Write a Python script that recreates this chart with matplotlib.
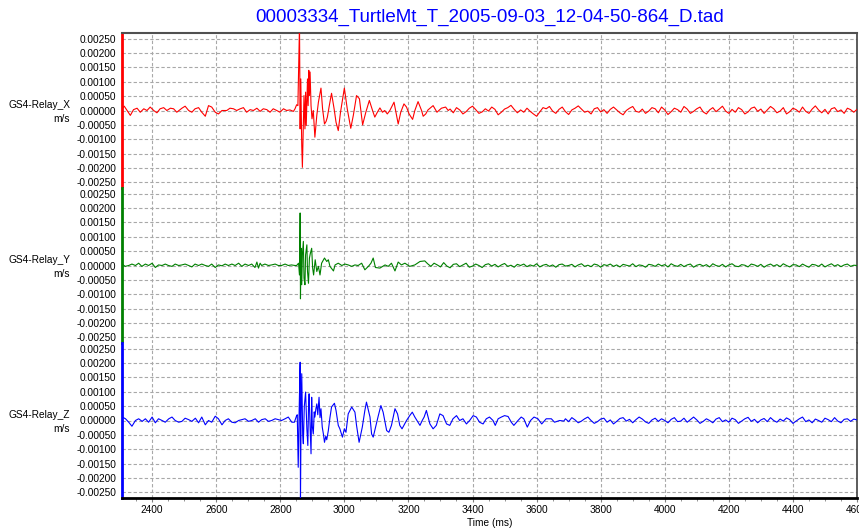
import matplotlib
matplotlib.use("Agg")
import matplotlib.pyplot as plt
from matplotlib.ticker import MultipleLocator, FuncFormatter

title = "00003334_TurtleMt_T_2005-09-03_12-04-50-864_D.tad"
channel_names = ["GS4-Relay_X", "GS4-Relay_Y", "GS4-Relay_Z"]
unit_label = "m/s"
x_label = "Time (ms)"

# ---- X channel: time (ms) and velocity (1e-3 m/s) ----
x_time = [2306, 2313, 2322, 2332, 2342, 2353, 2363, 2374, 2384, 2394, 2405, 2415, 2425,
          2436, 2446, 2457, 2467, 2477, 2493, 2503, 2514, 2524, 2534, 2545, 2555, 2566,
          2576, 2586, 2597, 2607, 2618, 2633, 2643, 2654, 2664, 2675, 2685, 2695, 2706,
          2716, 2727, 2737, 2747, 2758, 2768, 2778, 2789, 2799, 2810, 2820, 2830, 2841,
          2846, 2851, 2855, 2860, 2862, 2864, 2867, 2869, 2871, 2874, 2877, 2879, 2881,
          2885, 2887, 2889, 2891, 2893, 2896, 2899, 2903, 2908, 2914, 2919, 2927, 2932,
          2938, 2943, 2947, 2953, 2960, 2968, 2974, 2981, 2988, 3000, 3009, 3020, 3028,
          3038, 3047, 3057, 3067, 3078, 3088, 3095, 3103, 3111, 3119, 3126, 3134, 3142,
          3155, 3161, 3168, 3176, 3186, 3194, 3202, 3213, 3220, 3230, 3241, 3246, 3254,
          3261, 3277, 3289, 3303, 3316, 3324]
x_vel = [0.06, 0.15, 0.00, -0.17, 0.03, 0.08, -0.06, 0.06, 0.00, 0.12, 0.00, -0.08, 0.06,
         0.10, 0.00, 0.08, 0.06, -0.06, 0.08, 0.15, 0.00, -0.06, 0.06, 0.10, -0.06, -0.20,
         0.17, 0.12, -0.06, -0.12, 0.00, 0.00, 0.08, 0.06, 0.00, 0.06, 0.10, -0.06, 0.03,
         0.00, 0.08, -0.03, 0.06, 0.03, -0.06, 0.06, 0.00, -0.06, 0.06, 0.00, 0.02, -0.03,
         0.06, 0.20, 0.17, 3.00, -0.64, 1.10, -1.22, -1.98, -0.99, 0.52, -0.64, 0.64, -0.52,
         1.10, 0.17, 1.40, 0.52, 1.34, 0.17, -0.29, 0.00, -0.93, -0.17, 0.29, 0.78, 0.06,
         -0.47, -0.38, -0.23, 0.17, 0.60, 0.06, -0.41, -0.70, -0.06, 0.78, 0.06, -0.62, -0.17,
         0.52, 0.41, -0.50, -0.06, 0.35, 0.00, -0.23, -0.06, 0.09, -0.06, 0.00, -0.12, 0.00,
         0.29, -0.06, -0.47, -0.06, 0.23, 0.12, -0.12, -0.31, 0.00, 0.31, 0.00, -0.20, -0.12,
         0.02, 0.17, -0.06, 0.08, 0.12, 0.00]
# coda, one sample every 10 ms from 3330 ms
x_coda = [0.05, -0.08, 0.10, 0.02, -0.12, -0.04, 0.08, 0.15, 0.03, -0.10,
          -0.05, 0.06, -0.02, 0.12, 0.04, -0.15, -0.06, 0.05, 0.10, 0.18,
          0.04, -0.08, 0.02, -0.06, 0.08, -0.03, -0.12, -0.20, -0.05, 0.10,
          0.06, 0.14, -0.02, -0.10, 0.04, 0.12, -0.04, -0.14, 0.02, 0.08,
          0.16, 0.05, -0.06, -0.02, -0.12, 0.06, 0.10, -0.05, 0.03, -0.10,
          0.04, 0.12, 0.02, -0.08, -0.15, 0.00, 0.08, 0.14, -0.03, -0.06,
          0.05, -0.10, -0.02, 0.10, 0.06, -0.08, 0.12, 0.02, -0.14, -0.04,
          0.08, 0.03, -0.06, 0.14, 0.05, -0.10, -0.03, 0.06, 0.12, -0.05,
          -0.12, 0.02, 0.10, -0.04, 0.05, 0.15, -0.02, -0.10, 0.04, -0.06,
          0.10, 0.03, -0.12, -0.05, 0.08, 0.12, -0.03, 0.05, -0.10, 0.02,
          0.14, 0.06, -0.08, -0.02, 0.10, -0.12, -0.04, 0.08, 0.03, -0.06,
          0.12, -0.03, -0.10, 0.05, 0.16, 0.02, -0.08, 0.04, -0.12, 0.06,
          0.10, -0.04, 0.02, -0.10, 0.08, 0.03, -0.06, 0.04]
x_coda_start = 3330

# ---- Y channel ----
y_time = [2306, 2316, 2327, 2337, 2348, 2358, 2368, 2379, 2389, 2400, 2410, 2420, 2431,
          2441, 2451, 2462, 2472, 2483, 2493, 2503, 2514, 2524, 2534, 2545, 2555, 2566,
          2576, 2586, 2597, 2607, 2618, 2628, 2638, 2649, 2659, 2670, 2680, 2690, 2701,
          2711, 2721, 2727, 2732, 2737, 2742, 2752, 2763, 2773, 2784, 2794, 2804, 2815,
          2825, 2835, 2846, 2851, 2857, 2860, 2862, 2863, 2865, 2867, 2869, 2872, 2874,
          2877, 2879, 2883, 2885, 2888, 2891, 2894, 2898, 2901, 2904, 2909, 2914, 2919,
          2924, 2929, 2938, 2945, 2950, 2955, 2966, 2971, 2981, 2992, 3002, 3012, 3023,
          3033, 3043, 3054, 3064, 3075, 3083, 3090, 3097, 3111, 3127, 3137, 3147, 3158,
          3168, 3178, 3189, 3204, 3220, 3236, 3251]
y_vel = [0.05, -0.03, 0.00, 0.05, 0.00, 0.08, -0.03, 0.05, 0.00, 0.08, -0.07, 0.02, 0.00,
         0.05, 0.00, -0.03, 0.05, 0.00, 0.02, 0.05, 0.00, -0.05, 0.05, 0.00, 0.05, 0.00,
         -0.03, 0.05, -0.07, 0.02, -0.01, 0.05, 0.00, 0.05, 0.00, 0.08, -0.03, 0.05, 0.00,
         0.05, -0.07, 0.12, -0.09, 0.08, 0.00, 0.05, 0.00, 0.02, 0.05, 0.00, 0.00, 0.05,
         0.00, 0.02, 0.00, 0.00, 0.08, -0.33, 1.83, -1.16, 0.60, -0.67, 0.37, 0.84, -0.44,
         -0.67, 0.37, 0.72, -0.21, -0.62, 0.26, 0.43, 0.60, -0.09, -0.33, 0.20, -0.21, -0.03,
         -0.33, 0.08, 0.26, 0.14, 0.20, -0.03, -0.19, 0.02, 0.08, 0.00, 0.05, 0.02, -0.03,
         0.02, 0.00, 0.08, -0.15, -0.03, 0.08, 0.26, -0.07, -0.09, 0.02, -0.03, 0.08, -0.19,
         0.12, 0.02, 0.08, -0.03, 0.02, 0.14, 0.16]
y_coda = [0.06, -0.03, 0.08, 0.02, -0.05, 0.10, -0.02, -0.08, 0.04, 0.06,
          -0.04, 0.02, 0.08, -0.06, -0.02, 0.05, 0.00, -0.07, 0.03, 0.06,
          -0.02, 0.04, -0.05, 0.02, 0.07, -0.03, 0.01, -0.06, 0.04, 0.00,
          0.05, -0.04, 0.02, -0.02, 0.06, -0.05, 0.01, 0.04, -0.03, 0.02,
          -0.06, 0.03, 0.05, -0.02, 0.00, 0.04, -0.05, 0.02, 0.06, -0.03,
          0.01, -0.04, 0.05, 0.02, -0.06, 0.03, 0.00, 0.05, -0.03, 0.02,
          -0.05, 0.04, 0.01, -0.02, 0.06, -0.04, 0.02, 0.00, -0.06, 0.04,
          0.02, -0.03, 0.05, -0.01, 0.03, -0.05, 0.06, 0.00, -0.03, 0.04,
          -0.04, 0.02, 0.05, -0.06, 0.01, 0.04, -0.02, 0.03, -0.05, 0.06,
          0.00, -0.03, 0.04, -0.05, 0.02, 0.06, -0.02, -0.04, 0.03, 0.01,
          -0.05, 0.05, 0.02, -0.03, 0.04, -0.06, 0.01, 0.05, -0.02, 0.03,
          -0.04, 0.06, 0.00, -0.05, 0.03, 0.02, -0.04, 0.05, -0.01, -0.06,
          0.04, 0.02, -0.03, 0.05, -0.05, 0.01, 0.06, -0.02, 0.03, -0.04,
          0.02, 0.05, -0.03, 0.01, 0.00]
y_coda_start = 3260

# ---- Z channel ----
z_time = [2307, 2317, 2327, 2337, 2348, 2358, 2369, 2379, 2389, 2400, 2410, 2420, 2431,
          2441, 2452, 2462, 2472, 2483, 2493, 2503, 2514, 2524, 2535, 2545, 2555, 2566,
          2576, 2586, 2597, 2607, 2618, 2628, 2638, 2649, 2659, 2670, 2680, 2690, 2701,
          2711, 2722, 2732, 2742, 2753, 2763, 2773, 2784, 2794, 2804, 2815, 2825, 2836,
          2844, 2851, 2853, 2856, 2859, 2862, 2863, 2865, 2867, 2870, 2872, 2875, 2879,
          2883, 2886, 2888, 2890, 2893, 2896, 2898, 2900, 2903, 2906, 2908, 2911, 2914,
          2917, 2921, 2924, 2927, 2931, 2935, 2938, 2942, 2945, 2950, 2955, 2960, 2969,
          2974, 2981, 2986, 2994, 3000, 3005, 3012, 3023, 3033, 3038, 3046, 3056, 3064,
          3069, 3080, 3085, 3090, 3106, 3114, 3121, 3132, 3139, 3147, 3158, 3166, 3173,
          3180, 3194, 3204, 3212, 3220, 3230, 3236, 3243, 3249, 3256, 3267, 3277, 3287,
          3298, 3308, 3319, 3329, 3339, 3350, 3360, 3370, 3381, 3391, 3402, 3412, 3422,
          3433, 3443, 3453, 3464, 3471, 3480, 3490, 3500, 3511, 3521, 3529, 3542, 3552,
          3560, 3571, 3581, 3592, 3604, 3616, 3630, 3646, 3656, 3672, 3685]
z_vel = [0.12, 0.06, -0.06, -0.20, 0.00, 0.06, -0.03, 0.06, -0.06, 0.12, -0.08, 0.06, 0.00,
         -0.06, 0.06, 0.12, 0.00, -0.06, -0.03, 0.08, 0.03, -0.03, 0.08, -0.08, 0.12, -0.15,
         0.00, -0.06, 0.15, 0.06, -0.15, 0.00, 0.06, -0.06, -0.08, 0.00, 0.03, 0.06, -0.03,
         0.00, 0.06, -0.06, 0.03, 0.06, -0.03, 0.00, 0.06, 0.03, 0.00, 0.06, 0.12, -0.06,
         -0.06, 0.17, 0.20, -1.63, 0.40, 2.03, -2.90, 0.30, 1.63, -0.50, -0.81, 0.50, 0.99,
         -0.30, -0.87, 0.40, 0.93, -0.20, -1.16, 0.81, -0.20, -0.47, 0.30, 0.12, 0.40, 0.58,
         0.20, 0.81, 0.10, 0.41, -0.23, -0.50, -0.76, -0.55, -0.67, -0.35, 0.10, 0.47, 0.60,
         0.35, -0.17, -0.29, -0.58, -0.29, -0.41, 0.23, 0.47, 0.29, -0.17, -0.76, -0.23, 0.35,
         0.64, 0.12, -0.47, -0.58, 0.17, 0.52, 0.29, -0.35, -0.41, -0.17, 0.41, 0.23, -0.17,
         -0.29, 0.00, 0.17, 0.29, 0.12, -0.06, -0.17, 0.00, 0.12, 0.35, -0.12, -0.29, -0.17,
         0.23, 0.17, -0.12, -0.17, 0.06, 0.17, 0.00, 0.06, -0.12, 0.00, 0.17, 0.12, -0.06,
         -0.12, 0.06, 0.12, 0.00, -0.17, 0.06, 0.12, 0.17, 0.14, -0.06, -0.17, 0.00, 0.12,
         0.06, -0.23, 0.00, 0.12, 0.06, -0.12, 0.06, 0.06, -0.06, 0.00, -0.02]
z_coda = [0.06, -0.04, 0.10, 0.02, -0.08, -0.02, 0.06, 0.12, 0.00, -0.10,
          -0.04, 0.05, 0.08, -0.06, 0.02, -0.12, -0.03, 0.07, 0.10, -0.02,
          0.04, -0.08, 0.03, 0.12, 0.05, -0.05, -0.10, 0.02, 0.08, -0.03,
          0.06, 0.00, -0.08, 0.04, 0.10, -0.04, -0.02, 0.08, -0.06, 0.03,
          0.12, 0.02, -0.10, -0.03, 0.06, 0.00, -0.08, 0.05, 0.10, -0.04,
          0.02, -0.06, 0.08, 0.03, -0.10, -0.02, 0.06, 0.11, -0.03, 0.04,
          -0.08, 0.02, 0.07, -0.04, 0.10, 0.00, -0.06, 0.05, -0.02, 0.09,
          0.03, -0.10, -0.02, 0.06, 0.12, -0.04, 0.02, -0.08, 0.05, 0.00,
          -0.06, 0.08, 0.03, -0.04, 0.10, -0.02, -0.08, 0.04, 0.06, -0.03,
          0.05, 0.02]
z_coda_start = 3690
coda_step = 10


def full_trace(times, vals, coda, start):
    t = list(times) + [start + coda_step * k for k in range(len(coda))]
    v = list(vals) + list(coda)
    return t, [x * 1e-3 for x in v]


channels = [(*full_trace(x_time, x_vel, x_coda, x_coda_start), "#ff0000"),
            (*full_trace(y_time, y_vel, y_coda, y_coda_start), "#008000"),
            (*full_trace(z_time, z_vel, z_coda, z_coda_start), "#0000ff")]

x_min, x_max = 2306, 4600
y_lim = 0.0027
y_ticks = [-0.0025, -0.0020, -0.0015, -0.0010, -0.0005, 0.0,
           0.0005, 0.0010, 0.0015, 0.0020, 0.0025]
x_ticks = [2400, 2600, 2800, 3000, 3200, 3400, 3600, 3800, 4000, 4200, 4400, 4600]

plt.rcParams["font.family"] = ["Liberation Sans", "DejaVu Sans"]

W, H = 859, 529
fig = plt.figure(figsize=(W / 100, H / 100), dpi=100)

left_px, right_px, top_px, bottom_px = 122, 857, 33, 498
panel_h = (bottom_px - top_px) / 3


def fmt(v, _pos=None):
    if abs(v) < 1e-12:
        v = 0.0
    return f"{v:.5f}"


for i, (tt, vv, col) in enumerate(channels):
    top = top_px + i * panel_h
    ax = fig.add_axes([left_px / W, 1 - (top + panel_h) / H,
                       (right_px - left_px) / W, panel_h / H])
    ax.plot(tt, vv, color=col, lw=0.8, zorder=3)
    ax.set_xlim(x_min, x_max)
    ax.set_ylim(-y_lim, y_lim)
    ax.set_yticks(y_ticks)
    ax.yaxis.set_major_formatter(FuncFormatter(fmt))
    ax.set_xticks(x_ticks)
    ax.xaxis.set_minor_locator(MultipleLocator(50))
    ax.grid(True, which="major", color="#a8a8a8", linestyle=(0, (3, 2)), lw=0.8)
    ax.tick_params(axis="y", length=0, pad=4, labelsize=7.3)
    for s in ax.spines.values():
        s.set_visible(False)
    ax.spines["left"].set_visible(True)
    ax.spines["left"].set_color(col)
    ax.spines["left"].set_linewidth(2)
    ax.spines["right"].set_visible(True)
    ax.spines["right"].set_color("#404040")
    ax.spines["right"].set_linewidth(1.2)
    if i == 0:
        ax.spines["top"].set_visible(True)
        ax.spines["top"].set_color("#505050")
        ax.spines["top"].set_linewidth(1.5)
    if i == 2:
        ax.spines["bottom"].set_visible(True)
        ax.spines["bottom"].set_color("black")
        ax.spines["bottom"].set_linewidth(2)
        ax.tick_params(axis="x", which="major", length=3, color="#808080",
                       labelsize=7.3, pad=2)
        ax.tick_params(axis="x", which="minor", length=2, color="#808080")
    else:
        ax.tick_params(axis="x", which="both", bottom=False, labelbottom=False)
    ax.text(-0.0707, 0.49, f"{channel_names[i]}\n{unit_label}", transform=ax.transAxes,
            ha="right", va="center", multialignment="right", fontsize=7.3,
            linespacing=1.5)

cx = (left_px + right_px) / 2 / W
fig.text(cx, 1 - 17 / H, title, ha="center", va="center", color="#0000ff",
         fontsize=13.5)
fig.text(cx, 1 - 523 / H, x_label, ha="center", va="center", fontsize=7.3)

fig.savefig("out.png", dpi=100)
